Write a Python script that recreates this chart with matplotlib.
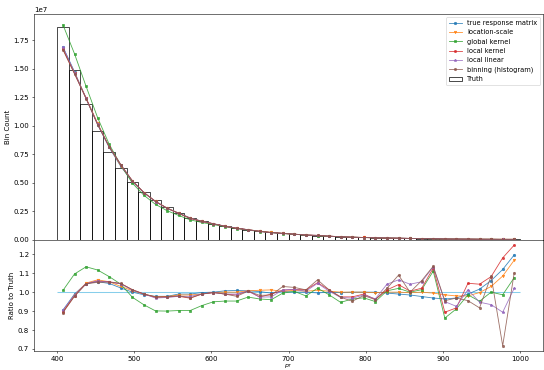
import matplotlib
matplotlib.use("Agg")
import matplotlib.pyplot as plt
import numpy as np

# ─── binning ──────────────────────────────────────────────────────────────────
bin_edges = np.arange(400, 1001, 15)
bin_centers = 0.5 * (bin_edges[:-1] + bin_edges[1:])

# truth counts (units of 1e7)
truth = np.array([
    1.867, 1.487, 1.186, 0.958, 0.774, 0.630, 0.511, 0.419, 0.346, 0.285,
    0.238, 0.195, 0.165, 0.142, 0.121, 0.104, 0.089, 0.077, 0.066, 0.057,
    0.050, 0.043, 0.038, 0.033, 0.029, 0.025, 0.022, 0.0195, 0.017, 0.015,
    0.0135, 0.012, 0.0105, 0.0094, 0.0084, 0.0075, 0.0067, 0.0060, 0.0054, 0.0048,
]) * 1e7

# ratio of each unfolded result to truth
ratio_true_matrix = [
    0.905, 0.990, 1.045, 1.055, 1.046, 1.022, 1.000, 0.986, 0.978, 0.978,
    0.990, 0.990, 0.998, 1.000, 1.007, 1.009, 1.007, 1.003, 0.995, 1.004,
    1.000, 1.000, 0.996, 1.000, 0.998, 1.000, 1.000, 1.000, 0.995, 0.990,
    0.985, 0.977, 0.969, 0.964, 0.969, 0.990, 1.016, 1.061, 1.120, 1.197,
]
ratio_location_scale = [
    0.895, 0.985, 1.048, 1.065, 1.055, 1.030, 1.008, 0.990, 0.975, 0.977,
    0.985, 0.985, 0.990, 0.998, 1.000, 1.000, 1.007, 1.010, 1.012, 1.004,
    1.010, 1.005, 1.010, 1.005, 1.000, 1.000, 1.000, 0.997, 1.000, 1.000,
    0.997, 1.000, 0.995, 0.986, 0.980, 0.980, 0.998, 1.030, 1.085, 1.169,
]
ratio_global_kernel = [
    1.009, 1.096, 1.134, 1.117, 1.082, 1.042, 0.973, 0.933, 0.901, 0.900,
    0.903, 0.903, 0.929, 0.949, 0.953, 0.953, 0.974, 0.964, 0.960, 0.995,
    1.004, 0.980, 1.021, 0.986, 0.946, 0.964, 0.970, 0.950, 1.007, 1.020,
    1.000, 1.013, 1.111, 0.863, 0.912, 0.986, 0.952, 1.000, 0.986, 1.077,
]
ratio_local_kernel = [
    0.895, 0.980, 1.045, 1.058, 1.055, 1.045, 1.013, 0.990, 0.972, 0.975,
    0.978, 0.968, 0.990, 0.998, 0.990, 0.985, 1.007, 0.974, 0.990, 1.010,
    1.015, 1.012, 1.050, 1.012, 0.975, 0.975, 0.990, 0.962, 1.012, 1.040,
    1.005, 1.021, 1.127, 0.894, 0.917, 1.047, 1.042, 1.082, 1.181, 1.249,
]
ratio_local_linear = [
    0.905, 0.985, 1.045, 1.060, 1.053, 1.044, 1.010, 0.990, 0.969, 0.972,
    0.978, 0.978, 0.990, 0.998, 0.990, 0.990, 1.005, 0.974, 0.975, 1.012,
    1.015, 1.005, 1.047, 1.005, 0.972, 0.968, 0.985, 0.965, 1.042, 1.065,
    1.042, 1.055, 1.133, 0.950, 0.925, 1.013, 0.947, 0.934, 0.894, 1.021,
]
ratio_binning = [
    0.892, 0.978, 1.044, 1.052, 1.053, 1.046, 1.013, 0.990, 0.975, 0.975,
    0.981, 0.970, 0.990, 0.998, 0.990, 0.978, 1.005, 0.983, 0.985, 1.030,
    1.025, 1.012, 1.065, 1.012, 0.973, 0.952, 0.982, 0.960, 1.020, 1.090,
    1.000, 1.061, 1.137, 0.955, 0.969, 0.955, 0.917, 1.085, 0.717, 1.103,
]

METHODS = [
    ("true response matrix", ratio_true_matrix,    "o", 3.5),
    ("location-scale",       ratio_location_scale, "v", 3.5),
    ("global kernel",        ratio_global_kernel,  "s", 3.0),
    ("local kernel",         ratio_local_kernel,   "o", 3.2),
    ("local linear",         ratio_local_linear,   "*", 4.0),
    ("binning (histogram)",  ratio_binning,        "h", 3.6),
]

# ─── figure ───────────────────────────────────────────────────────────────────
fig = plt.figure(figsize=(544 / 50, 370 / 50), dpi=50)
ax_top = fig.add_axes([0.0625, 0.3514, 0.936, 0.6108])
ax_bot = fig.add_axes([0.0625, 0.052, 0.936, 0.2994], sharex=ax_top)

for k, (label, ratio, marker, ms) in enumerate(METHODS):
    ratio = np.asarray(ratio)
    color = f"C{k}"
    ax_top.plot(bin_centers, truth * ratio, marker=marker, ms=ms, lw=1.2,
                color=color, alpha=0.85, label=label)
    ax_bot.plot(bin_centers, ratio, marker=marker, ms=ms, lw=1.2,
                color=color, alpha=0.85)

ax_top.hist(bin_centers, bins=bin_edges, weights=truth, histtype="bar",
            fill=False, edgecolor="k", linewidth=1.0, label="Truth")

ax_bot.hlines(1.0, bin_edges[0], bin_edges[-1], color="skyblue", lw=1.5, zorder=1)

ax_top.set_ylabel("Bin Count")
ax_top.legend(loc="upper right", fontsize=9.5)
ax_top.tick_params(labelbottom=False)

ax_bot.set_ylabel("Ratio to Truth")
ax_bot.set_xlabel("$p_T$", fontsize=9, labelpad=0)

fig.savefig("out.png", dpi=50)
